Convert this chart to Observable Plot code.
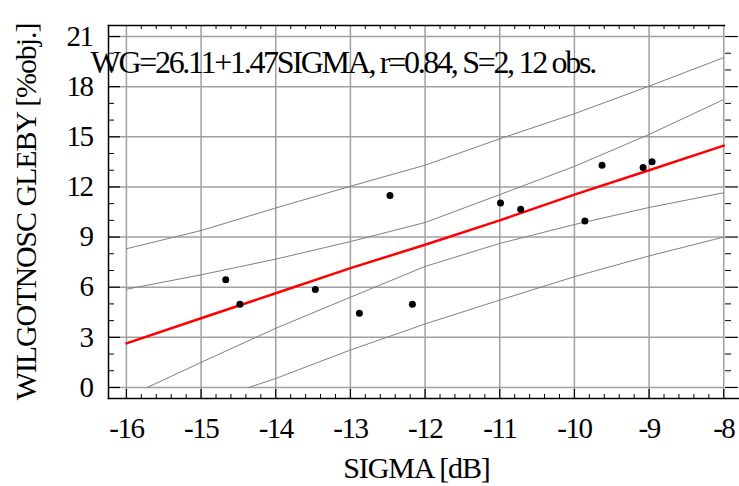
<!DOCTYPE html>
<html><head><meta charset="utf-8">
<script src="https://cdn.jsdelivr.net/npm/d3@7"></script>
<script src="https://cdn.jsdelivr.net/npm/@observablehq/plot@0.6"></script>
<style>
html,body{margin:0;padding:0;background:#fff}
</style></head><body><div id="chart"></div>
<script>
// Observations
const obsSigma = [-14.67,-14.48,-13.47,-12.88,-12.17,-12.47,-10.99,-10.72,-9.86,-9.63,-9.08,-8.96];
const obsWG    = [6.44,4.98,5.86,4.44,4.98,11.49,11.04,10.66,9.96,13.30,13.17,13.50];
// Fitted line and bands (read at integer SIGMA)
const gridSigma      = [-16,-15,-14,-13,-12,-11,-10,-9,-8];
const fitWG          = [2.64,4.14,5.64,7.14,8.54,10.00,11.54,13.00,14.47];
const innerUpperWG   = [5.88,6.74,7.68,8.73,9.87,11.54,13.23,15.14,17.23];
const outerUpperWG   = [8.30,9.39,10.74,12.04,13.30,14.88,16.38,18.03,19.74];
const innerLowerSigma= [-15.72,-15,-14,-13,-12,-11,-10,-9,-8];
const innerLowerWG   = [0,1.50,3.54,5.40,7.24,8.62,9.75,10.77,11.65];
const outerLowerSigma= [-14.36,-14,-13,-12,-11,-10,-9,-8];
const outerLowerWG   = [0,0.54,2.24,3.80,5.23,6.63,7.87,9.00];
// Ticks
const xTicks = [-16,-15,-14,-13,-12,-11,-10,-9,-8];
const yTicks = [0,3,6,9,12,15,18,21];
const xMinor = d3.range(0,41).map(i => Math.round((-16 + i*0.2)*10)/10);
const yMinor = d3.range(0,22);
// Texts
const titleText = "WG=26.11+1.47SIGMA, r=0.84, S=2, 12 obs.";
const xLabel = "SIGMA [dB]";
const yLabel = "WILGOTNOSC GLEBY [%obj.]";

const W = 739, H = 486;
const mL = 108, mR = 15, mT = 25, mB = 88;
const fw = W - mL - mR, fh = H - mT - mB;
const font = "Liberation Serif, Times New Roman, serif";

const obs = obsSigma.map((s,i) => ({s, wg: obsWG[i]}));
const fit = gridSigma.map((s,i) => ({s, wg: fitWG[i]}));
const bands = [
  ...gridSigma.map((s,i) => ({band:"iu", s, wg: innerUpperWG[i]})),
  ...gridSigma.map((s,i) => ({band:"ou", s, wg: outerUpperWG[i]})),
  ...innerLowerSigma.map((s,i) => ({band:"il", s, wg: innerLowerWG[i]})),
  ...outerLowerSigma.map((s,i) => ({band:"ol", s, wg: outerLowerWG[i]}))
];

const chart = Plot.plot({
  width: W, height: H,
  marginLeft: mL, marginRight: mR, marginTop: mT, marginBottom: mB,
  style: {background: "#fff", fontFamily: font, color: "#000"},
  x: {domain: [-16.24, -7.99]},
  y: {domain: [-0.66, 21.66]},
  marks: [
    Plot.gridX(xTicks, {stroke: "#a0a0a0", strokeOpacity: 1, strokeWidth: 1.5}),
    Plot.gridY(yTicks, {stroke: "#a0a0a0", strokeOpacity: 1, strokeWidth: 1.5}),
    Plot.line(bands, {x: "s", y: "wg", z: "band", stroke: "#808080", strokeWidth: 1}),
    Plot.line(fit, {x: "s", y: "wg", stroke: "#ff0000", strokeWidth: 2.5}),
    Plot.dot(obs, {x: "s", y: "wg", r: 3.5, fill: "#000", stroke: null}),
    // ticks
    Plot.tickX(xMinor.filter(d => !xTicks.includes(d)), {x: d => d, insetTop: fh - 4, stroke: "#000"}),
    Plot.tickX(xTicks, {x: d => d, insetTop: fh - 9, stroke: "#000", strokeWidth: 1.2}),
    Plot.tickX(xMinor.filter(d => !xTicks.includes(d)), {x: d => d, insetBottom: fh - 4, stroke: "#000"}),
    Plot.tickY(yMinor.filter(d => !yTicks.includes(d)), {y: d => d, insetRight: fw - 6, stroke: "#000"}),
    Plot.tickY(yTicks, {y: d => d, insetRight: fw - 12, stroke: "#000", strokeWidth: 1.2}),
    Plot.tickY(yMinor.filter(d => !yTicks.includes(d)), {y: d => d, insetLeft: fw + 1, insetRight: -7, stroke: "#000"}),
    Plot.tickY(yTicks, {y: d => d, insetLeft: fw + 1, insetRight: -14, stroke: "#000", strokeWidth: 1.2}),
    // frame
    Plot.frame({anchor: "left", stroke: "#000", strokeWidth: 1.5}),
    Plot.frame({anchor: "top", stroke: "#000", strokeWidth: 1.5}),
    Plot.frame({anchor: "bottom", stroke: "#000", strokeWidth: 1.5, insetRight: -15}),
    // axes
    Plot.axisX(xTicks, {tickSize: 0, tickPadding: 19, fontSize: 29, fontFamily: font, fill: "#000", tickFormat: d => String(d), label: null}),
    Plot.axisY(yTicks, {tickSize: 0, tickPadding: 16, fontSize: 29, fontFamily: font, fill: "#000", tickFormat: d => String(d), label: null}),
    // texts
    Plot.text([titleText], {text: d => d, frameAnchor: "top-left", textAnchor: "start", lineAnchor: "bottom", dx: -18, dy: 47, fontSize: 32, fontFamily: font, fill: "#000"}),
    Plot.text([xLabel], {text: d => d, frameAnchor: "bottom", textAnchor: "middle", lineAnchor: "bottom", dy: 79, fontSize: 30, fontFamily: font, fill: "#000"}),
    Plot.text([yLabel], {text: d => d, frameAnchor: "left", textAnchor: "middle", lineAnchor: "bottom", rotate: -90, dx: -73, dy: 0, fontSize: 30, fontFamily: font, fill: "#000"})
  ]
});

d3.select(chart).selectAll("text").each(function() {
  const t = this.textContent;
  let ls = "-1.5px";
  if (t === titleText) ls = "-2.3px";
  else if (t === xLabel || t === yLabel) ls = "-1.1px";
  this.setAttribute("letter-spacing", ls);
});

document.getElementById("chart").appendChild(chart);
</script>
</body></html>
